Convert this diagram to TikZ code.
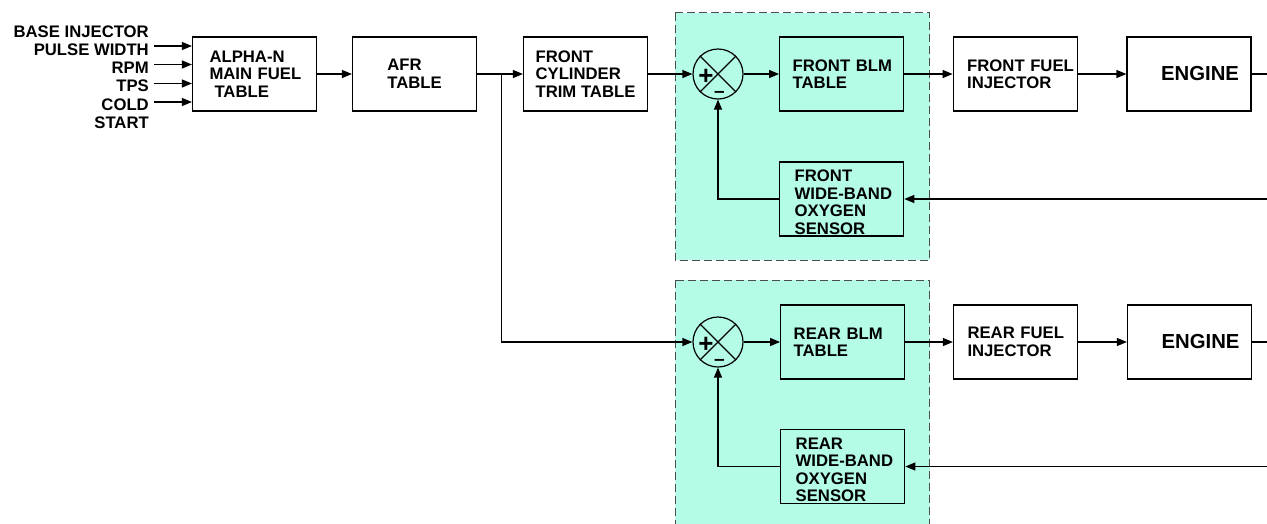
\documentclass[tikz,border=0pt]{standalone}
\usepackage{fontspec}
\setmainfont{Liberation Sans}
\usetikzlibrary{arrows.meta}
\definecolor{mint}{RGB}{180,252,232}
\exhyphenpenalty=10000
\tikzstyle{block} = [
	draw,
	line width=1.2pt,
	minimum width=124pt,
	minimum height=74pt,
	inner sep=0pt,
	align=left,
	font=\bfseries\fontsize{16.7}{17.5}\selectfont
]
\tikzstyle{junction} = [draw, circle, line width=1.2pt, minimum size=50pt, inner sep=0pt]
\tikzstyle{sign} = [inner sep=0pt, font=\bfseries\fontsize{26}{26}\selectfont]
\tikzstyle{region} = [draw=black!70, line width=1pt, dash pattern=on 8pt off 4pt, fill=mint]
\tikzstyle{wire} = [line width=1.2pt]
\tikzstyle{arrow} = [line width=1.2pt, -{Triangle[length=10pt,width=8pt]}]

\begin{document}
\begin{tikzpicture}[x=1pt, y=-1pt]
    \clip (0, 0) rectangle (1267, 523);
    \draw[region] (675, 12.5) rectangle (929.5, 260);
    \draw[region] (675, 280) rectangle (929.5, 540);
    % inputs
    \node[anchor=east, align=right, inner sep=0pt, font=\bfseries\fontsize{16.7}{18.3}\selectfont] (inputs) at (149, 77) {BASE INJECTOR\\PULSE WIDTH\\RPM\\TPS\\COLD\\START};
    \coordinate (in 1) at (154, 46);
    \coordinate (in 2) at (154, 64.5);
    \coordinate (in 3) at (154, 83.5);
    \coordinate (in 4) at (154, 102);
    \node[block, text width=90pt] (alpha) at (254.5, 74) {ALPHA-N\\MAIN~FUEL\\\hspace*{5pt}TABLE};
    \node[block] (afr) at (414.5, 74) {AFR\\TABLE};
    \node[block] (trim) at (585.5, 74) {FRONT\\CYLINDER\\TRIM TABLE};
    \coordinate (split) at (501.5, 74);
    % front loop
    \node[junction] (sum F) at (718, 74) {};
    \node[sign] (plus F) at (706, 77) {+};
    \node[sign, font=\bfseries\fontsize{19}{19}\selectfont] (minus F) at (719.5, 94) {–};
    \node[block, text width=98pt] (blm F) at (841.7, 74) {FRONT~BLM\\TABLE};
    \node[block, text width=94pt] (sens F) at (841.7, 199) {\rule{0pt}{18pt}FRONT\\WIDE-BAND\\OXYGEN\\SENSOR};
    \node[block, text width=96pt] (inj F) at (1015.2, 74) {FRONT~FUEL\\INJECTOR};
    \node[block, text width=100pt, align=right, font=\bfseries\fontsize{20.3}{21}\selectfont] (eng F) at (1189, 74) {ENGINE};
    \coordinate (out F) at (1270, 74);
    \coordinate (back F) at (1270, 199);
    % rear loop
    \node[junction] (sum R) at (718, 342) {};
    \node[sign] (plus R) at (706, 345) {+};
    \node[sign, font=\bfseries\fontsize{19}{19}\selectfont] (minus R) at (719.5, 362) {–};
    \node[block, text width=98pt] (blm R) at (842.7, 342) {REAR~BLM\\TABLE};
    \node[block, text width=94pt] (sens R) at (842.7, 466.5) {\rule{0pt}{18pt}REAR\\WIDE-BAND\\OXYGEN\\SENSOR};
    \node[block, text width=96pt] (inj R) at (1015.5, 342) {REAR~FUEL\\INJECTOR};
    \node[block, text width=100pt, align=right, font=\bfseries\fontsize{20.3}{21}\selectfont] (eng R) at (1189.5, 342) {ENGINE};
    \coordinate (out R) at (1270, 342);
    \coordinate (back R) at (1270, 466.5);
    % crosses in the summing points
    \draw[wire] (sum F.north west) -- (sum F.south east) (sum F.north east) -- (sum F.south west);
    \draw[wire] (sum R.north west) -- (sum R.south east) (sum R.north east) -- (sum R.south west);
    % connections
    \draw[arrow] (in 1) -- (in 1 -| alpha.west);
    \draw[arrow] (in 2) -- (in 2 -| alpha.west);
    \draw[arrow] (in 3) -- (in 3 -| alpha.west);
    \draw[arrow] (in 4) -- (in 4 -| alpha.west);
    \draw[arrow] (alpha) -- (afr);
    \draw[arrow] (afr) -- (trim);
    \draw[arrow] (split) |- (sum R.west);
    \draw[arrow] (trim) -- (sum F);
    \draw[arrow] (sum F) -- (blm F);
    \draw[arrow] (blm F) -- (inj F);
    \draw[arrow] (inj F) -- (eng F);
    \draw[wire] (eng F) -- (out F);
    \draw[arrow] (back F) -- (sens F);
    \draw[arrow] (sens F.west) -| (sum F.south);
    \draw[arrow] (sum R) -- (blm R);
    \draw[arrow] (blm R) -- (inj R);
    \draw[arrow] (inj R) -- (eng R);
    \draw[wire] (eng R) -- (out R);
    \draw[arrow] (back R) -- (sens R);
    \draw[arrow] (sens R.west) -| (sum R.south);
\end{tikzpicture}
\end{document}
